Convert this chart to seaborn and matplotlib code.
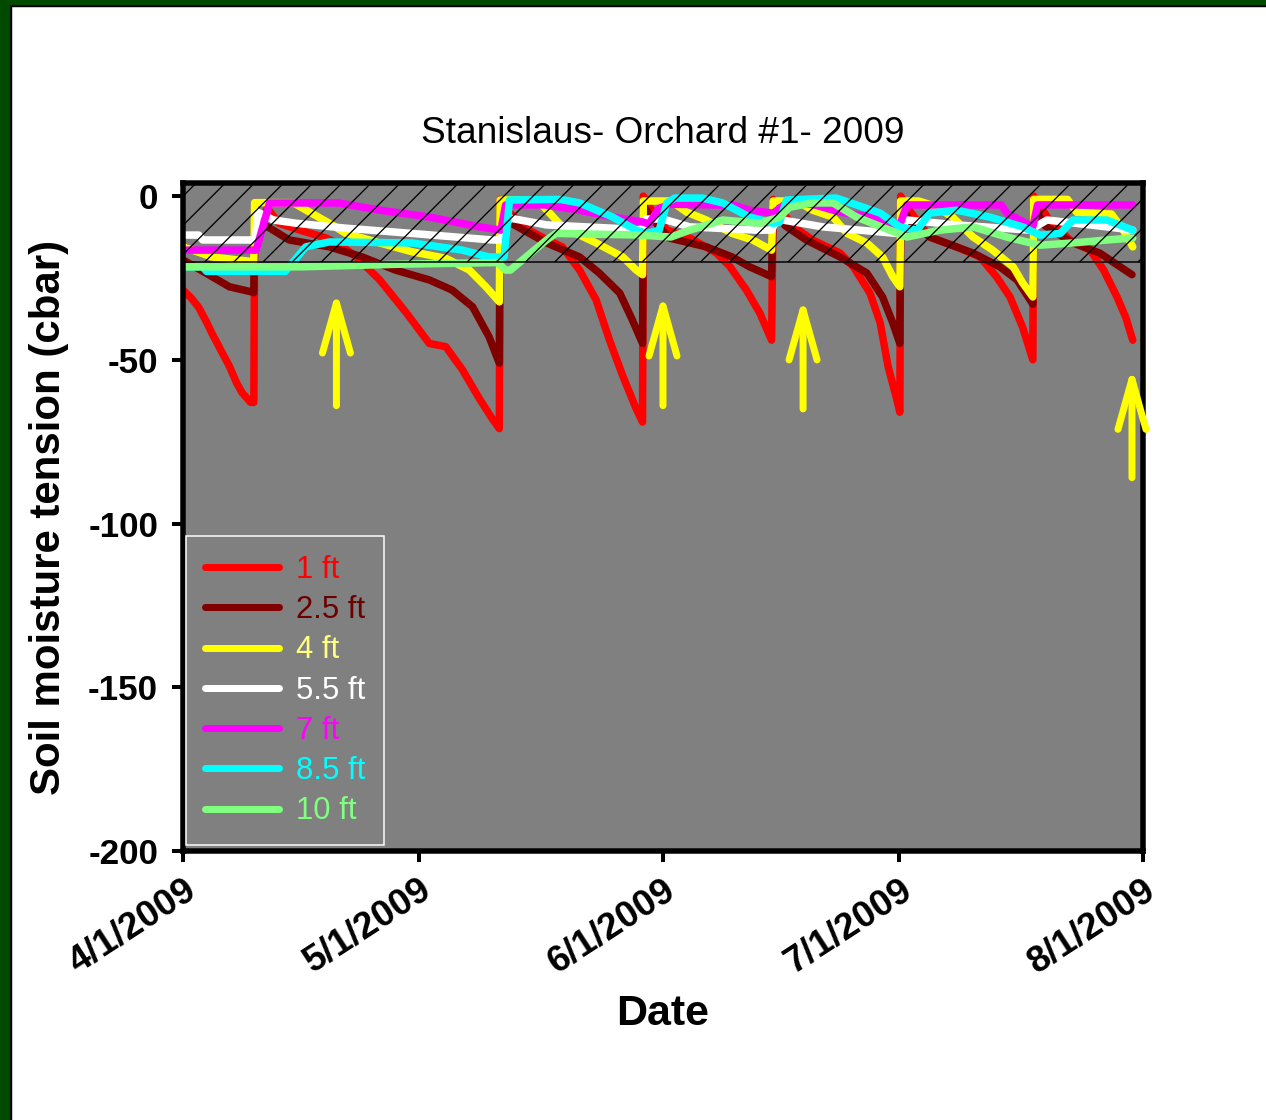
import datetime as dt
import pandas as pd
import matplotlib
matplotlib.use('Agg')
import matplotlib.pyplot as plt
import matplotlib.dates as mdates
from matplotlib.lines import Line2D
from matplotlib.patches import Rectangle
import seaborn as sns

# series: (days after 4/1/2009, soil moisture tension in cbar)
depth_1ft = [(0, -28.7), (1, -31), (2, -34), (3, -38.5), (3.7, -42), (4.8, -47), (5.9, -52), (6.8, -57),
             (7.5, -60), (8.6, -63), (9.0, -63), (9.1, -12),
             (10.7, -3.7), (12.2, -8.3), (15, -10.5), (18.2, -12.8), (20, -15), (22, -18.5), (25, -25.6),
             (28.4, -35.7), (31.3, -45),
             (33.4, -46), (35.5, -53), (37.7, -62), (39.3, -68), (40.2, -71), (40.3, -1), (41.5, -5),
             (43.6, -10), (46, -13), (48.2, -15.5), (50.4, -22.6), (52.5, -31.7), (54.2, -44), (55.9, -55),
             (57.6, -65), (58.4, -69), (58.5, 0), (59.5, -4), (61.5, -10.4), (64.4, -12.8), (67.8, -17.4),
             (69.5, -21.5), (71.6, -28.7), (73.3, -35.7), (74.8, -44), (75.0, -1), (76.5, -6), (78, -10),
             (80, -13.4), (83.5, -17.4), (85.2, -21.6), (87.3, -29.6), (88.6, -38.7), (89.6, -52), (90.7, -62),
             (91.1, -66), (91.2, 0), (92.5, -5), (94.9, -12.5), (98.3, -15.5), (101.3, -18.6), (103.4, -24.7),
             (105.1, -30.8), (106.7, -40), (108.0, -50), (108.1, 0), (110, -7), (112.7, -13.4), (115.3, -16.5),
             (117, -22.6), (118.7, -30.8), (119.8, -37), (120.7, -44)]
depth_2_5ft = [(0, -19.5), (2.9, -23.5), (5.9, -27.7), (8.8, -29.3), (9.0, -29.5), (9.1, -12), (10.5, -9),
               (13.5, -13.4), (18.6, -15.5), (22.8, -18.6), (27, -22.6), (31.3, -25.6), (34.2, -28.7),
               (36.8, -33.8), (38.9, -43), (40.2, -51), (40.3, -3), (41.5, -8), (46.2, -14.3), (50.4, -18.6),
               (52.9, -23.5), (55.5, -29.6), (57.1, -37.8), (58.4, -45), (58.5, -3), (60, -8), (61.8, -12.8),
               (66.5, -15.5), (69.8, -18.6), (72, -21.6), (74.8, -24.6), (75.0, -3), (76.5, -9), (79.2, -13.4),
               (83.5, -18.6), (86.9, -23.5), (88.9, -30.8), (90.2, -38.7), (91.1, -45), (91.2, -3), (92.5, -8),
               (94.9, -12.5), (100.4, -17.4), (103.8, -21.6), (106, -25.6), (108, -33), (108.1, -3),
               (109.5, -9), (113.1, -14.3), (116.5, -17.4), (119.1, -21.6), (120.6, -24)]
depth_4ft = [(0, -15.5), (3.7, -18.6), (8.8, -20), (9.0, -20), (9.1, -2), (14, -2), (15, -3.4), (18.6, -8.3),
             (20.7, -11.4), (25, -14.3), (29.1, -17), (33.4, -19), (36.4, -22.6), (38.5, -27.7), (40.2, -32.3),
             (40.3, -1.2), (45, -1.2), (46.6, -5.2), (48.2, -9.4), (52.5, -14.3), (55.9, -18.6), (57.6, -22.6),
             (58.4, -24), (58.5, -1.5), (62, -1.5), (64, -4.9), (66.5, -7.3), (69.8, -11.4), (72.4, -13.4),
             (74.8, -16.5), (75.0, -1.5), (78, -1.5), (80, -4.3), (82.6, -6.4), (84.4, -11.4), (86.9, -14.3),
             (88.9, -18.6), (90.2, -24.6), (91.1, -27.7), (91.2, -1.5), (93.5, -1.5), (95.5, -3), (97.8, -6.4),
             (100.4, -12.5), (102.9, -16.5), (105.5, -21.6), (106.7, -26.5), (108, -30.8), (108.1, -1),
             (112.4, -1), (113.6, -5), (118, -5.5), (119.5, -10.4), (120.7, -15.5)]
depth_5_5ft = [(0, -11.9), (2, -11.9), (2.5, -13.4), (9.2, -13.4), (9.5, -4.9), (11.5, -7.3), (14.4, -8.3),
               (20.7, -9.8), (29.1, -11.4), (39.3, -13.4), (40.3, -13.4), (41.5, -6.7), (46.2, -8.8),
               (54.6, -9.8), (58.4, -10.4), (58.9, -7), (61, -7), (64.4, -9.4), (72.9, -10.4), (74.8, -10.4),
               (75.5, -7), (81.3, -9.4), (90.7, -11.4), (92, -7.3), (98.3, -8.8), (107.6, -10.4), (109.8, -7.3),
               (117.4, -9.4), (120.7, -10.4)]
depth_7ft = [(0, -16.5), (9.3, -16.5), (11, -2.1), (19.8, -2.1), (25, -4.3), (31.3, -6.4), (37.7, -9.4),
             (40.4, -10.4), (41, -2.7), (46, -2.7), (50.4, -4.3), (54.6, -6.4), (58.4, -7.9), (59.2, -8.5),
             (60.5, -3.7), (62, -2.5), (70, -2.8), (72, -4.3), (75, -5.2), (76.5, -2.5), (80, -2.5),
             (83.5, -4.9), (87.7, -6.4), (91.1, -8.8), (92, -2.7), (104, -2.7), (104.7, -5.2), (108, -9.4),
             (108.6, -2.7), (120.7, -2.7)]
depth_8_5ft = [(0, -21.6), (2.5, -21.6), (3, -23), (13, -23), (15.6, -15.5), (18.6, -14), (29.1, -14.3),
               (35.5, -16.5), (38.9, -18.6), (40.8, -18.6), (41.5, -1.2), (48, -1), (50.4, -2.1), (54.6, -6.4),
               (57.6, -10.4), (58.9, -11.4), (60.5, -10.5), (61.5, -2.1), (62.5, -0.6), (66, -0.6), (68.6, -2.1),
               (72, -6.4), (75, -8.3), (75.8, -8), (76.7, -1.2), (83, -0.6), (85.6, -2.7), (88.6, -5.2),
               (91.1, -9.4), (93.3, -10.4), (94.9, -5.2), (98.3, -4.3), (102.5, -6.4), (106.7, -9.4),
               (108.9, -11.9), (111.5, -11.4), (113.1, -7.3), (117.4, -7.3), (120.7, -10.4)]
depth_10ft = [(0, -21.6), (15, -21.6), (27.6, -20.8), (40, -20.3), (41, -22.6), (41.6, -22.6), (46.2, -13.4),
              (47.4, -11.4), (58, -11.9), (62, -12.5), (64.4, -10.4), (68.6, -7.3), (73.3, -8.3), (75.8, -6.4),
              (77.1, -3.4), (80, -2.1), (82.6, -2.1), (85.6, -6.4), (89.8, -10.4), (92, -12.5), (96.2, -10.4),
              (100.4, -9.4), (104.7, -12.5), (108.9, -15), (113.1, -14.3), (117.4, -13.4), (120.7, -12.8)]

depth_labels = ['1 ft', '2.5 ft', '4 ft', '5.5 ft', '7 ft', '8.5 ft', '10 ft']
depth_series = [depth_1ft, depth_2_5ft, depth_4ft, depth_5_5ft, depth_7ft, depth_8_5ft, depth_10ft]
line_colors = ['#ff0000', '#800000', '#ffff00', '#ffffff', '#ff00ff', '#00ffff', '#80ff80']
label_colors = ['#ff0000', '#6a0000', '#ffff80', '#ffffff', '#ff00ff', '#00ffff', '#80ff80']

# irrigation arrows: day, tip value, tail value
arrow_days = [19.5, 61, 78.8, 120.6]
arrow_tips = [-28.7, -29.6, -30.8, -52]
arrow_tails = [-64, -64, -65, -86]

start = dt.datetime(2009, 4, 1)
rows = []
for label, series in zip(depth_labels, depth_series):
    for day, val in series:
        rows.append({'date': start + dt.timedelta(days=day), 'tension': val, 'depth': label})
df = pd.DataFrame(rows)

DPI = 175
W, H = 1266, 1120


def px(v):
    return v * 72 / DPI


sns.set_style('ticks')
plt.rcParams['font.family'] = ['Liberation Sans', 'DejaVu Sans']
plt.rcParams['text.color'] = 'black'
plt.rcParams['axes.labelcolor'] = 'black'
plt.rcParams['xtick.color'] = 'black'
plt.rcParams['ytick.color'] = 'black'
plt.rcParams['axes.unicode_minus'] = False
plt.rcParams['hatch.linewidth'] = px(1.3)

fig = plt.figure(figsize=(W / DPI, H / DPI), dpi=DPI, facecolor='white')
ax = fig.add_axes([183 / W, 1 - 851 / H, 960 / W, 668 / H])
ax.set_facecolor('#808080')

sns.lineplot(data=df, x='date', y='tension', hue='depth', hue_order=depth_labels,
             palette=dict(zip(depth_labels, line_colors)), estimator=None, sort=False,
             legend=False, lw=px(7.5), solid_joinstyle='round', solid_capstyle='round', ax=ax)

# target zone 0 to -20 cbar
ax.axhspan(-20, 4, facecolor='none', edgecolor='black', hatch='//', lw=px(1.5), zorder=5)

for day, tip, tail in zip(arrow_days, arrow_tips, arrow_tails):
    xd = mdates.date2num(start + dt.timedelta(days=day))
    ax.annotate('', xy=(xd, tip), xytext=(xd, tail), zorder=6,
                arrowprops=dict(arrowstyle='->,head_length=1.0,head_width=0.28', mutation_scale=px(50),
                                color='#ffff00', lw=px(7), shrinkA=0, shrinkB=0))

ax.set_xlim(start, dt.datetime(2009, 8, 1))
ax.set_ylim(-200, 4)
ax.set_yticks([0, -50, -100, -150, -200])
ax.xaxis.set_major_locator(mdates.MonthLocator())
ax.xaxis.set_major_formatter(plt.FuncFormatter(
    lambda v, pos: '{d.month}/{d.day}/{d.year}'.format(d=mdates.num2date(v))))

for s in ax.spines.values():
    s.set_visible(True)
    s.set_color('black')
    s.set_linewidth(px(5.5))
ax.tick_params(direction='out', length=px(11), width=px(4), color='black')
ax.tick_params(axis='y', labelsize=px(35), pad=px(14))
ax.tick_params(axis='x', labelsize=px(37), pad=px(10))
for t in ax.get_yticklabels():
    t.set_fontweight('bold')
for t in ax.get_xticklabels():
    t.set_fontweight('bold')
    t.set_rotation(33)
    t.set_ha('right')
    t.set_va('top')
    t.set_rotation_mode('anchor')

ax.set_title('Stanislaus- Orchard #1- 2009', fontsize=px(37), pad=px(40))
ax.set_xlabel('Date', fontsize=px(43), fontweight='bold', labelpad=px(14))
ax.set_ylabel('Soil moisture tension (cbar)', fontsize=px(42), fontweight='bold', labelpad=px(19))

handles = [Line2D([], [], color=c, lw=px(7), solid_capstyle='round') for c in line_colors]
leg = ax.legend(handles, depth_labels, loc='lower left', bbox_to_anchor=(3 / 960, 6 / 668),
                borderaxespad=0, frameon=True, fancybox=False, facecolor='#808080', edgecolor='white',
                framealpha=1, fontsize=px(31), handlelength=2.4, handletextpad=0.55, borderpad=0.6,
                labelspacing=0.33, labelcolor=label_colors)
leg.get_frame().set_linewidth(px(1.5))
leg.set_zorder(7)

# slide frame: green strip with black edge on left and top
fig.add_artist(Rectangle((0, 0), 11 / W, 1, transform=fig.transFigure, color='black', zorder=0))
fig.add_artist(Rectangle((0, 1 - 6 / H), 1, 6 / H, transform=fig.transFigure, color='black', zorder=0))
fig.add_artist(Rectangle((0, 0), 9 / W, 1, transform=fig.transFigure, color='#004a00', zorder=1))
fig.add_artist(Rectangle((0, 1 - 4 / H), 1, 4 / H, transform=fig.transFigure, color='#004a00', zorder=1))

fig.savefig('out.png', dpi=DPI)
